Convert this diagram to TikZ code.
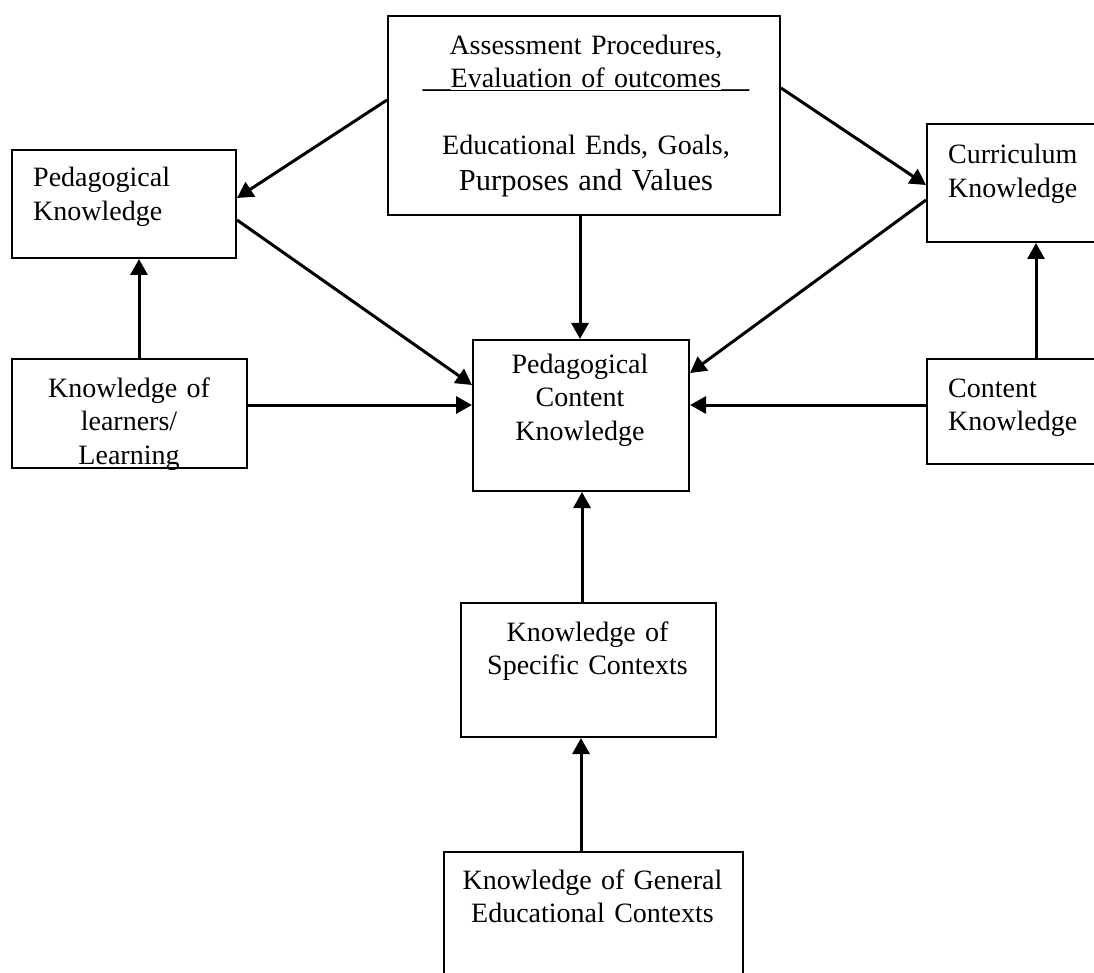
\documentclass[tikz,border=0pt]{standalone}
\usepackage{fontspec}
\setmainfont{Liberation Serif}
\usetikzlibrary{arrows.meta}
\newcommand\undertext[1]{\leavevmode\setbox0\hbox{#1}\rlap{\rule[-3.4pt]{\wd0}{1.4pt}}\box0}
\begin{document}
\begin{tikzpicture}[x=1pt,y=-1pt,
  box/.style={draw, line width=2pt, inner sep=0pt, anchor=north west},
  txt/.style={inner sep=0pt, font=\fontsize{28}{33.5}\selectfont},
  arr/.style={line width=3pt, -{Triangle[length=16pt,width=17pt]}}]
\clip (0,0) rectangle (1094,973);
\fill[white] (0,0) rectangle (1094,973);
% boxes
\node[box, minimum width=392pt, minimum height=199pt] (top) at (387,15) {};
\node[box, minimum width=224pt, minimum height=108pt] (pk) at (11,149) {};
\node[box, minimum width=250pt, minimum height=118pt] (cur) at (926,123) {};
\node[box, minimum width=235pt, minimum height=109pt] (lrn) at (11,358) {};
\node[box, minimum width=216pt, minimum height=151pt] (pck) at (472,339) {};
\node[box, minimum width=250pt, minimum height=105pt] (con) at (926,358) {};
\node[box, minimum width=255pt, minimum height=134pt] (spc) at (460,602) {};
\node[box, minimum width=299pt, minimum height=200pt] (gen) at (443,851) {};
% texts
\node[txt, text width=390pt, align=center, anchor=base] (topT) at (586,54.5)
  {Assessment Procedures,\\ \undertext{\_\_Evaluation of outcomes\_\_}\\[33.5pt]
   Educational Ends, Goals,\\[2.5pt] {\fontsize{30.5}{36}\selectfont Purposes and Values}};
\node[txt, text width=200pt, align=left, anchor=base west] (pkT) at (33,187) {Pedagogical\\Knowledge};
\node[txt, text width=140pt, align=left, anchor=base west] (curT) at (948,164) {Curriculum\\Knowledge};
\node[txt, text width=140pt, align=left, anchor=base west] (conT) at (948,397) {Content\\Knowledge};
\begin{scope}
  \clip (lrn.south west) rectangle (lrn.north east);
  \node[txt, text width=230pt, align=center, anchor=base] (lrnT) at (129,397) {Knowledge of\\learners/\\Learning};
\end{scope}
\node[txt, text width=214pt, align=center, anchor=base] (pckT) at (580,373) {Pedagogical\\Content\\Knowledge};
\node[txt, text width=250pt, align=center, anchor=base] (spcT) at (587.5,641) {Knowledge of\\Specific Contexts};
\node[txt, text width=295pt, align=center, anchor=base] (genT) at (592.5,889) {Knowledge of General\\Educational Contexts};
% connectors
\draw[arr] (top.west |- 0,100) -- (pk.east |- 0,198);
\draw[arr] (top.east |- 0,88) -- (cur.west |- 0,185);
\draw[arr] (top.south -| 580,0) -- (pck.north -| 580,0);
\draw[arr] (pk.east |- 0,220) -- (pck.west |- 0,385);
\draw[arr] (cur.west |- 0,200) -- (pck.east |- 0,373);
\draw[arr] (lrn.north -| 139,0) -- (pk.south -| 139,0);
\draw[arr] (lrn.east |- 0,405) -- (pck.west |- 0,405);
\draw[arr] (con.west |- 0,405) -- (pck.east |- 0,405);
\draw[arr] (con.north -| 1036,0) -- (cur.south -| 1036,0);
\draw[arr] (spc.north -| 582,0) -- (pck.south -| 582,0);
\draw[arr] (gen.north -| 581,0) -- (spc.south -| 581,0);
\end{tikzpicture}
\end{document}
